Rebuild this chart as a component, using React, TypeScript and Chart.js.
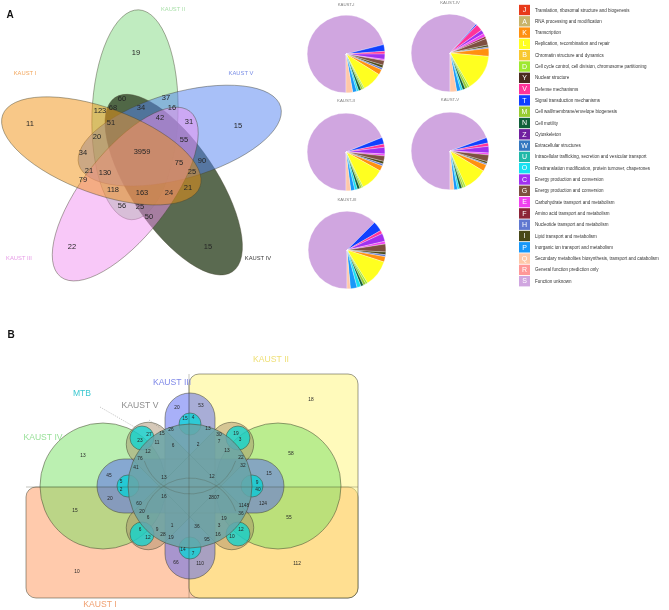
import React, { useEffect, useRef } from "react";
import { Chart, registerables } from "chart.js";

Chart.register(...registerables);

const FIG_W = 669;
const FIG_H = 610;
const FONT = '"Liberation Sans", Arial, sans-serif';

// ---------------- Panel A : 5-set Venn ----------------
const setNamesA = ["KAUST I", "KAUST II", "KAUST V", "KAUST IV", "KAUST III"];
const setColorsA = [
  "rgba(241,145,17,0.5)",
  "rgba(129,217,129,0.5)",
  "rgba(81,129,241,0.5)",
  "rgba(61,80,49,0.85)",
  "rgba(241,145,241,0.5)",
];
const setLabelColorsA = ["#f2a65c", "#a8dfa8", "#7a8ee6", "#3a3a3a", "#e69ae6"];
const setLabelPosA = [[25, 73], [173, 9], [241, 73], [258, 258], [19, 258]];
const ellipseAxisAngleA = [20, 92, 164, 236, 308];
const ellipseCenterAngleA = [187, 259, 331, 43, 115];
const ellipseHubA = [143, 156];
const ellipseOffsetA = 42;
const ellipseRadiiA = [105, 43];
const drawOrderA = [1, 3, 2, 4, 0];

const countsA = [3959, 19, 11, 15, 22, 15, 60, 37, 123, 68, 34, 16, 51, 42, 31, 20, 55, 34, 75, 90, 21, 130, 25, 79, 118, 163, 24, 21, 56, 25, 50];
const countPosA = [
  [142, 152], [136, 53], [30, 124], [238, 126], [72, 247], [208, 247], [122, 99], [166, 98],
  [100, 111], [113, 108], [141, 108], [172, 108], [111, 123], [160, 118], [189, 122], [97, 137],
  [184, 140], [83, 153], [179, 163], [202, 161], [89, 171], [105, 173], [192, 172], [83, 180],
  [113, 190], [142, 193], [169, 193], [188, 188], [122, 206], [140, 207], [149, 217],
];

// ---------------- COG categories / pies ----------------
const cogLetters = ["J", "A", "K", "L", "B", "D", "Y", "V", "T", "M", "N", "Z", "W", "U", "O", "C", "G", "E", "F", "H", "I", "P", "Q", "R", "S"];
const cogNames = [
  "Translation, ribosomal structure and biogenesis",
  "RNA processing and modification",
  "Transcription",
  "Replication, recombination and repair",
  "Chromatin structure and dynamics",
  "Cell cycle control, cell division, chromosome partitioning",
  "Nuclear structure",
  "Defense mechanisms",
  "Signal transduction mechanisms",
  "Cell wall/membrane/envelope biogenesis",
  "Cell motility",
  "Cytoskeleton",
  "Extracellular structures",
  "Intracellular trafficking, secretion and vesicular transport",
  "Posttranslation modification, protein turnover, chaperones",
  "Energy production and conversion",
  "Energy production and conversion",
  "Carbohydrate transport and metabolism",
  "Amino acid transport and metabolism",
  "Nucleotide transport and metabolism",
  "Lipid transport and metabolism",
  "Inorganic ion transport and metabolism",
  "Secondary metabolites biosynthesis, transport and catabolism",
  "General function prediction only",
  "Function unknown",
];
const cogColors = [
  "#e83a1a", "#c8b46a", "#ff9010", "#ffff20", "#f8c830", "#a0e830", "#4a2c20", "#ff3399",
  "#1040ff", "#98cc30", "#10603a", "#7020a0", "#3478c0", "#20b8a8", "#18e0f0", "#a030f0",
  "#7e5040", "#f040f0", "#8c2438", "#6078d0", "#484818", "#1898f8", "#ffc8a8", "#ff9898", "#d0a6e0",
];

const pieOrder = ["S", "T", "V", "C", "E", "F", "G", "I", "H", "K", "L", "D", "M", "N", "U", "O", "P", "Q"];
const pieTitles = ["KAUST-I", "KAUST-IV", "KAUST-II", "KAUST-V", "KAUST-III"];
const pieKaustI = [256, 10, 4, 8, 2, 0, 7, 4, 3, 8, 30, 2, 3, 4, 0, 3, 6, 10];
const pieKaustIV = [222, 2, 10, 6, 5, 3, 10, 3, 2, 12, 55, 3, 4, 4, 0, 3, 6, 10];
const pieKaustII = [248, 10, 5, 10, 3, 0, 8, 4, 3, 8, 35, 2, 3, 4, 0, 4, 6, 7];
const pieKaustV = [250, 8, 5, 10, 3, 0, 10, 3, 2, 10, 35, 3, 3, 4, 0, 3, 5, 6];
const pieKaustIII = [225, 15, 5, 12, 4, 0, 12, 4, 3, 8, 40, 3, 4, 4, 0, 6, 10, 5];
const pieValues = [pieKaustI, pieKaustIV, pieKaustII, pieKaustV, pieKaustIII];
const pieCenters = [[346, 54], [450, 53], [346, 152], [450, 151], [347, 250]];
const pieTitlePos = [[346, 5], [450, 3], [346, 101], [450, 100], [347, 200]];
const PIE_R = 38;

const legendX = 519;
const legendY0 = 10;
const legendStep = 11.3;

// ---------------- Panel B : 6-set Venn ----------------
const setNamesB = ["KAUST I", "KAUST II", "KAUST IV", "KAUST III", "KAUST V", "MTB"];
const setLabelPosB = [[100, 605], [271, 360], [43, 438], [172, 383], [140, 406], [82, 394]];
const setLabelColorsB = ["#f0a070", "#efe078", "#98e098", "#7f88e8", "#8c8c8c", "#3cc8d0"];
const rectsB = [[26, 487, 332, 111], [189, 374, 169, 224]]; // KAUST I, KAUST II
const greenCirclesB = [[103, 486], [278, 486]];
const GREEN_R = 63;
const plusB = [[165, 393, 50, 186], [97, 459, 187, 54]];
const hubB = [190, 486];
const xArmLength = 162;
const xArmWidth = 44;
const mtbCircles = [[190, 424, 11], [190, 548, 11], [128, 486, 11], [252, 486, 11], [142, 438, 12], [238, 438, 12], [142, 534, 12], [238, 534, 12]];
const HUB_R = 62;
const leaderLines = [[[100, 407], [138, 429]], [[149, 420], [160, 428]]];

const countsB = [18, 58, 55, 112, 10, 13, 15, 45, 20, 5, 2, 20, 53, 15, 4, 27, 15, 26, 23, 11, 6, 2, 13, 30, 7, 19, 3, 12, 13, 76, 22, 41, 32, 13, 12, 15, 9, 40, 16, 2807, 1148, 124, 60, 20, 36, 6, 19, 1, 36, 3, 6, 9, 16, 12, 28, 19, 95, 12, 10, 14, 7, 66, 110];
const countPosB = [
  [311, 400], [291, 454], [289, 518], [297, 564], [77, 572], [83, 456], [75, 511], [109, 476],
  [110, 499], [121, 482], [121, 490], [177, 408], [201, 406], [185, 419], [193, 418], [149, 435],
  [162, 434], [171, 430], [140, 441], [157, 443], [173, 446], [198, 445], [208, 429], [219, 435],
  [219, 442], [236, 434], [240, 440], [148, 452], [227, 451], [140, 459], [241, 458], [136, 468],
  [243, 466], [164, 478], [212, 477], [269, 474], [257, 483], [258, 490], [164, 497], [214, 498],
  [244, 506], [263, 504], [139, 504], [142, 512], [241, 514], [148, 518], [224, 519], [172, 526],
  [197, 527], [219, 526], [140, 530], [157, 530], [218, 535], [241, 530], [163, 535], [171, 538],
  [207, 540], [148, 538], [232, 537], [183, 550], [193, 554], [176, 563], [200, 564],
];

const STROKE = "rgba(70,70,50,0.75)";

const figurePlugin = {
  id: "figure",
  beforeDatasetsDraw(chart: any) {
    const ctx: CanvasRenderingContext2D = chart.ctx;
    const xs = chart.scales.x;
    const ys = chart.scales.y;
    const X = (v: number) => xs.getPixelForValue(v);
    const Y = (v: number) => ys.getPixelForValue(v);
    const Lx = (d: number) => Math.abs(xs.getPixelForValue(d) - xs.getPixelForValue(0));
    const Ly = (d: number) => Math.abs(ys.getPixelForValue(d) - ys.getPixelForValue(0));
    const rad = Math.PI / 180;
    ctx.save();

    // Panel A ellipses
    drawOrderA.forEach((i) => {
      const ca = ellipseCenterAngleA[i] * rad;
      const cx = ellipseHubA[0] + ellipseOffsetA * Math.cos(ca);
      const cy = ellipseHubA[1] + ellipseOffsetA * Math.sin(ca);
      ctx.beginPath();
      ctx.ellipse(X(cx), Y(cy), Lx(ellipseRadiiA[0]), Ly(ellipseRadiiA[1]), ellipseAxisAngleA[i] * rad, 0, Math.PI * 2);
      ctx.fillStyle = setColorsA[i];
      ctx.fill();
      ctx.strokeStyle = STROKE;
      ctx.lineWidth = 0.6;
      ctx.stroke();
    });

    // Panel B
    ctx.lineWidth = 0.7;
    ctx.strokeStyle = STROKE;
    const rectFills = ["rgba(255,150,90,0.5)", "rgba(255,245,120,0.5)"];
    rectsB.forEach((r, i) => {
      ctx.beginPath();
      ctx.roundRect(X(r[0]), Y(r[1]), Lx(r[2]), Ly(r[3]), 10);
      ctx.fillStyle = rectFills[i];
      ctx.fill();
      ctx.stroke();
    });
    ctx.beginPath();
    greenCirclesB.forEach((c) => {
      ctx.moveTo(X(c[0]) + Lx(GREEN_R), Y(c[1]));
      ctx.arc(X(c[0]), Y(c[1]), Lx(GREEN_R), 0, Math.PI * 2);
    });
    ctx.fillStyle = "rgba(120,225,100,0.5)";
    ctx.fill();
    ctx.stroke();

    ctx.beginPath();
    plusB.forEach((r) => {
      ctx.roundRect(X(r[0]), Y(r[1]), Lx(r[2]), Ly(r[3]), Math.min(Lx(r[2]), Ly(r[3])) / 2);
    });
    ctx.fillStyle = "rgba(81,97,241,0.5)";
    ctx.fill();
    ctx.stroke();

    ctx.beginPath();
    [45, -45].forEach((a) => {
      ctx.save();
      ctx.translate(X(hubB[0]), Y(hubB[1]));
      ctx.rotate(a * rad);
      ctx.roundRect(-Lx(xArmLength) / 2, -Lx(xArmWidth) / 2, Lx(xArmLength), Lx(xArmWidth), Lx(xArmWidth) / 2);
      ctx.restore();
    });
    ctx.fillStyle = "rgba(165,135,100,0.45)";
    ctx.fill();
    ctx.stroke();

    ctx.beginPath();
    mtbCircles.forEach((c) => {
      ctx.moveTo(X(c[0]) + Lx(c[2]), Y(c[1]));
      ctx.arc(X(c[0]), Y(c[1]), Lx(c[2]), 0, Math.PI * 2);
    });
    ctx.fillStyle = "rgba(0,215,215,0.72)";
    ctx.fill();
    ctx.stroke();

    ctx.beginPath();
    ctx.arc(X(hubB[0]), Y(hubB[1]), Lx(HUB_R), 0, Math.PI * 2);
    ctx.fillStyle = "rgba(105,165,168,0.85)";
    ctx.fill();
    ctx.stroke();

    // inner set boundaries inside the core
    ctx.strokeStyle = "rgba(70,70,50,0.35)";
    [[0, -40], [0, 40]].forEach(([dx, dy]) => {
      ctx.beginPath();
      ctx.arc(X(hubB[0] + dx), Y(hubB[1] + dy), Lx(48), dy < 0 ? Math.PI * 0.1 : Math.PI * 1.1, dy < 0 ? Math.PI * 0.9 : Math.PI * 1.9);
      ctx.stroke();
    });
    ctx.strokeStyle = "rgba(70,70,50,0.45)";
    ctx.beginPath();
    ctx.moveTo(X(rectsB[1][0]), Y(rectsB[1][1]));
    ctx.lineTo(X(rectsB[1][0]), Y(rectsB[1][1] + rectsB[1][3]));
    ctx.moveTo(X(rectsB[0][0]), Y(rectsB[0][1]));
    ctx.lineTo(X(rectsB[0][0] + rectsB[0][2]), Y(rectsB[0][1]));
    ctx.stroke();

    // leader lines
    ctx.strokeStyle = "rgba(140,140,140,0.9)";
    ctx.lineWidth = 0.6;
    ctx.setLineDash([1, 1.2]);
    leaderLines.forEach(([a, b]) => {
      ctx.beginPath();
      ctx.moveTo(X(a[0]), Y(a[1]));
      ctx.lineTo(X(b[0]), Y(b[1]));
      ctx.stroke();
    });
    ctx.setLineDash([]);
    ctx.restore();
  },
  afterDatasetsDraw(chart: any) {
    const ctx: CanvasRenderingContext2D = chart.ctx;
    ctx.save();
    ctx.textAlign = "center";
    ctx.textBaseline = "middle";
    ctx.fillStyle = "#262626";
    const metaA = chart.getDatasetMeta(0);
    ctx.font = `7.5px ${FONT}`;
    metaA.data.forEach((el: any, i: number) => ctx.fillText(String(countsA[i]), el.x, el.y));
    const metaB = chart.getDatasetMeta(1);
    ctx.font = `4.8px ${FONT}`;
    metaB.data.forEach((el: any, i: number) => ctx.fillText(String(countsB[i]), el.x, el.y));
    ctx.restore();
  },
  afterDraw(chart: any) {
    const ctx: CanvasRenderingContext2D = chart.ctx;
    const xs = chart.scales.x;
    const ys = chart.scales.y;
    const X = (v: number) => xs.getPixelForValue(v);
    const Y = (v: number) => ys.getPixelForValue(v);
    ctx.save();
    ctx.textBaseline = "middle";
    ctx.textAlign = "center";
    ctx.fillStyle = "#111";
    ctx.font = `bold 10px ${FONT}`;
    ctx.fillText("A", X(10), Y(15));
    ctx.fillText("B", X(11), Y(335));
    ctx.font = `5.8px ${FONT}`;
    setNamesA.forEach((n, i) => {
      ctx.fillStyle = setLabelColorsA[i];
      ctx.fillText(n, X(setLabelPosA[i][0]), Y(setLabelPosA[i][1]));
    });
    ctx.font = `8.6px ${FONT}`;
    setNamesB.forEach((n, i) => {
      ctx.fillStyle = setLabelColorsB[i];
      ctx.fillText(n, X(setLabelPosB[i][0]), Y(setLabelPosB[i][1]));
    });
    ctx.font = `4.3px ${FONT}`;
    ctx.fillStyle = "#808080";
    pieTitles.forEach((t, i) => ctx.fillText(t, X(pieTitlePos[i][0]), Y(pieTitlePos[i][1])));
    // COG legend
    cogLetters.forEach((l, i) => {
      const cy = legendY0 + i * legendStep;
      ctx.fillStyle = cogColors[i];
      ctx.fillRect(X(legendX), Y(cy - 5.2), 11, 10.4);
      ctx.fillStyle = "#ffffff";
      ctx.font = `7px ${FONT}`;
      ctx.textAlign = "center";
      ctx.fillText(l, X(legendX + 5.5), Y(cy + 0.3));
      ctx.fillStyle = "#333333";
      ctx.font = `5.5px ${FONT}`;
      ctx.textAlign = "left";
      const w = ctx.measureText(cogNames[i]).width;
      ctx.fillText(cogNames[i], X(legendX + 16), Y(cy), w * 0.82);
    });
    ctx.restore();
  },
};

function PieChart({ values, cx, cy }: { values: number[]; cx: number; cy: number }) {
  const ref = useRef<HTMLCanvasElement>(null);
  const size = PIE_R * 2 + 2;
  useEffect(() => {
    const chart = new Chart(ref.current as HTMLCanvasElement, {
      type: "pie",
      data: {
        labels: pieOrder,
        datasets: [
          {
            data: values,
            backgroundColor: pieOrder.map((l) => cogColors[cogLetters.indexOf(l)]),
            borderColor: "#ffffff",
            borderWidth: 0.3,
          },
        ],
      },
      options: {
        responsive: false,
        animation: false,
        events: [],
        rotation: 180,
        layout: { padding: 0 },
        plugins: { legend: { display: false }, tooltip: { enabled: false } },
      },
    });
    return () => chart.destroy();
  }, [values]);
  return (
    <canvas
      ref={ref}
      width={size}
      height={size}
      style={{ position: "absolute", left: cx - size / 2, top: cy - size / 2, width: size, height: size }}
    />
  );
}

export default function App() {
  const ref = useRef<HTMLCanvasElement>(null);
  useEffect(() => {
    const chart = new Chart(ref.current as HTMLCanvasElement, {
      type: "scatter",
      data: {
        datasets: [
          { label: "Panel A shared genes", data: countPosA.map(([x, y]) => ({ x, y })), pointRadius: 0 },
          { label: "Panel B shared genes", data: countPosB.map(([x, y]) => ({ x, y })), pointRadius: 0 },
        ],
      },
      options: {
        responsive: false,
        animation: false,
        events: [],
        layout: { padding: 0 },
        scales: {
          x: { type: "linear", min: 0, max: FIG_W, display: false },
          y: { type: "linear", min: 0, max: FIG_H, reverse: true, display: false },
        },
        plugins: { legend: { display: false }, tooltip: { enabled: false } },
      },
      plugins: [figurePlugin],
    });
    return () => chart.destroy();
  }, []);
  return (
    <div style={{ position: "fixed", left: 0, top: 0, width: FIG_W, height: FIG_H, background: "#ffffff" }}>
      <canvas ref={ref} width={FIG_W} height={FIG_H} style={{ position: "absolute", left: 0, top: 0, width: FIG_W, height: FIG_H }} />
      {pieValues.map((v, i) => (
        <PieChart key={i} values={v} cx={pieCenters[i][0]} cy={pieCenters[i][1]} />
      ))}
    </div>
  );
}
